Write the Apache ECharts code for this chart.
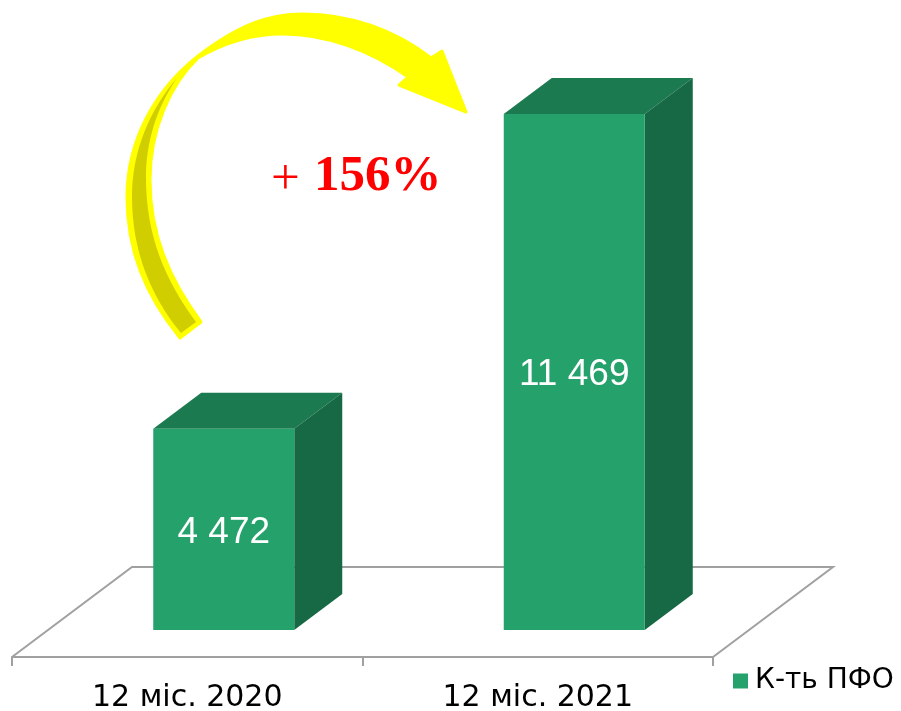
<!DOCTYPE html>
<html>
<head>
<meta charset="utf-8">
<title>К-ть ПФО</title>
<script src="https://cdn.jsdelivr.net/npm/echarts@6/dist/echarts.min.js"></script>
<style>
  html, body { margin: 0; padding: 0; background: #fff; }
  #chart { width: 901px; height: 711px; }
</style>
</head>
<body>
<div id="chart"></div>
<script>
const categories = ['12 міс. 2020', '12 міс. 2021'];
const seriesName = 'К-ть ПФО';
const values = [4472, 11469];
const valueLabels = ['4 472', '11 469'];

const arrowBody = 'M180,338 C145,295 127,250 127,197 C127,140 155,90 198,56 C240,24 270,14 303,14 C350,14 395,30 431,58 L442,51 L466,112 L399,85 L408,77 C370,50 325,34 283,34 C250,34 220,45 198,58 C170,85 150,130 150,180 C150,235 170,280 201,322 Z';
const arrowShade = 'M181,333 C150,295 132,250 132,197 C132,150 150,110 177,78 C155,110 146,145 146,178 C146,235 165,280 196,322 Z';

const chart = echarts.init(document.getElementById('chart'));

const renderBar = (params, api) => {
  const base = api.coord([api.value(0), 0]);
  const top = api.coord([api.value(0), api.value(1)]);
  // the bars stand part way back on the floor, so shift them off the category centre
  const left = base[0] + 36 - 70;
  const right = left + 141;
  const dx = 48;
  const dy = 36;
  return {
    type: 'group',
    children: [
      { type: 'polygon', shape: { points: [[left, top[1]], [left + dx, top[1] - dy], [right + dx, top[1] - dy], [right, top[1]]] }, style: { fill: '#1B7A50' } },
      { type: 'polygon', shape: { points: [[right, top[1]], [right + dx, top[1] - dy], [right + dx, base[1] - dy], [right, base[1]]] }, style: { fill: '#176844' } },
      { type: 'rect', shape: { x: left, y: top[1], width: 141, height: base[1] - top[1] }, style: { fill: '#25A26B' } },
      {
        type: 'text',
        style: {
          x: (left + right) / 2,
          y: (top[1] + base[1]) / 2 + 3,
          text: valueLabels[params.dataIndex],
          fill: '#fff',
          font: '37px "Liberation Sans"',
          align: 'center',
          verticalAlign: 'middle',
        },
      },
    ],
  };
};

// floor of the 3d plot, drawn behind the bars
const renderFloor = (params) => {
  const { x, y, width, height } = params.coordSys;
  const bottom = y + height + 27;
  return {
    type: 'polyline',
    shape: { points: [[x, bottom], [x + 120, bottom - 90], [x + width + 120, bottom - 90], [x + width, bottom]] },
    style: { fill: null, stroke: '#A0A0A0', lineWidth: 2 },
  };
};

const renderArrow = () => ({
  type: 'group',
  children: [
    { type: 'path', shape: { pathData: arrowBody }, style: { fill: '#FFFF00', stroke: '#FFFF00', lineWidth: 3, lineJoin: 'round' } },
    { type: 'path', shape: { pathData: arrowShade }, style: { fill: '#D0CE00' } },
  ],
});

const option = {
  animation: false,
  backgroundColor: '#fff',
  grid: { left: 12, top: 90, width: 701, height: 540, outerBoundsMode: 'none' },
  legend: {
    data: [seriesName],
    left: 733,
    top: 667,
    padding: 0,
    icon: 'rect',
    itemWidth: 15,
    itemHeight: 15,
    itemGap: 0,
    textStyle: { color: '#000', fontSize: 28, fontFamily: 'DejaVu Sans', padding: [5, 0, 0, 2] },
  },
  xAxis: {
    type: 'category',
    data: categories,
    offset: 27,
    axisLine: { onZero: false, lineStyle: { color: '#A0A0A0', width: 2 } },
    axisTick: { show: true, length: 9, lineStyle: { color: '#A0A0A0', width: 2 } },
    axisLabel: { color: '#000', fontSize: 30, fontFamily: 'DejaVu Sans', margin: 26 },
  },
  yAxis: { type: 'value', min: 0, max: 12000, show: false },
  series: [
    { type: 'custom', name: 'floor', renderItem: renderFloor, data: [[0, 0]], silent: true, clip: false, z: 1 },
    {
      type: 'custom',
      name: seriesName,
      renderItem: renderBar,
      data: values.map((v, i) => [i, v]),
      encode: { x: 0, y: 1 },
      itemStyle: { color: '#25A26B' },
      clip: false,
      z: 3,
    },
    { type: 'custom', name: 'arrow', renderItem: renderArrow, data: [[0, 0]], silent: true, clip: false, z: 10 },
  ],
  graphic: [
    {
      type: 'text',
      z: 12,
      left: 271,
      top: 155,
      style: { text: '+', font: '51px "Liberation Serif"', fill: '#FF0000' },
    },
    {
      type: 'text',
      z: 12,
      left: 314,
      top: 151,
      style: { text: '156%', font: 'bold 51px "Liberation Serif"', fill: '#FF0000' },
    },
  ],
};

chart.setOption(option);
window.addEventListener('resize', () => {
  chart.resize();
});
</script>
</body>
</html>
